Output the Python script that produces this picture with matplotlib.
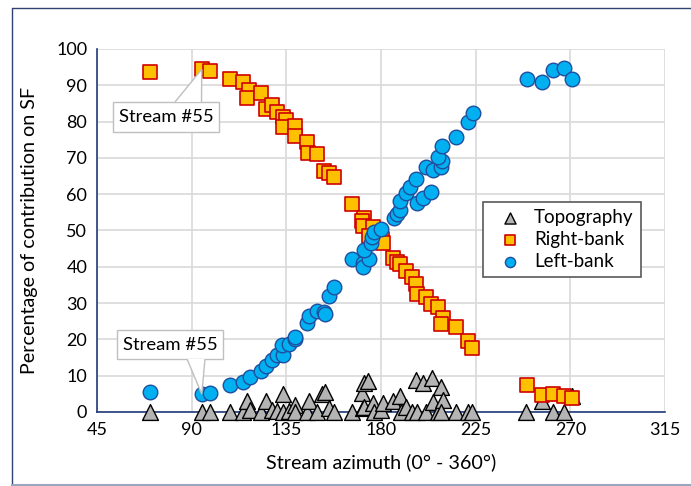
import matplotlib.pyplot as plt
from matplotlib.patches import Rectangle, Polygon
from matplotlib.lines import Line2D

plt.rcParams['font.family'] = ['Lato', 'DejaVu Sans']

# stream azimuth (deg) and contribution (%)
right_az = [70.1, 94.8, 98.6, 108.2, 114.5, 117.3, 116.5, 122.9, 125.5, 128.3,
            130.5, 133.2, 135.0, 133.3, 138.9, 138.9, 145.0, 145.3, 149.6, 152.8,
            155.4, 157.6, 166.4, 171.7, 170.9, 171.5, 176.1, 174.1, 180.5, 180.9,
            185.7, 187.6, 189.2, 191.8, 194.5, 196.6, 196.9, 201.4, 203.8, 207.3,
            209.4, 208.6, 215.6, 221.2, 223.4, 249.3, 256.5, 261.7, 266.9, 270.9]
right_val = [93.6, 94.4, 93.8, 91.8, 90.8, 88.6, 86.6, 88.0, 83.4, 84.5,
             82.7, 81.2, 80.5, 78.4, 78.9, 76.0, 74.4, 71.3, 71.1, 66.5,
             65.9, 64.8, 57.3, 53.3, 52.7, 51.2, 50.9, 48.5, 47.6, 46.5,
             42.3, 41.4, 40.8, 38.7, 37.1, 35.2, 32.4, 31.8, 29.8, 29.0,
             26.0, 24.2, 23.3, 19.6, 17.6, 7.5, 4.8, 4.9, 4.4, 3.8]

left_az = [70.1, 94.8, 98.6, 108.2, 114.5, 117.6, 122.9, 125.5, 128.3, 130.5,
           133.2, 132.9, 136.1, 138.9, 139.2, 145.0, 146.0, 149.8, 152.9, 153.6,
           155.3, 157.6, 166.4, 171.6, 171.6, 174.1, 172.1, 175.3, 175.8, 176.9,
           180.0, 186.0, 187.6, 189.2, 189.2, 191.8, 194.0, 196.4, 196.9, 200.1,
           203.6, 201.4, 204.6, 208.6, 208.9, 207.3, 209.2, 215.7, 221.3, 223.7,
           249.2, 256.6, 261.7, 267.0, 271.0]
left_val = [5.6, 4.9, 5.1, 7.4, 8.3, 9.6, 11.3, 12.7, 14.3, 15.6,
            15.7, 18.5, 18.7, 20.2, 20.7, 24.6, 26.4, 27.9, 27.6, 26.9,
            32.0, 34.5, 42.1, 41.0, 39.9, 42.1, 44.6, 46.5, 48.1, 49.7,
            50.3, 53.3, 54.5, 55.5, 58.2, 60.2, 62.1, 64.1, 57.7, 59.0,
            60.7, 67.6, 66.7, 67.4, 69.0, 70.2, 73.4, 75.8, 79.8, 82.3,
            91.7, 90.8, 94.2, 94.8, 91.7]

topo_az = [70.1, 94.8, 98.6, 108.2, 114.5, 116.5, 117.6, 122.9, 125.5, 128.3,
           130.5, 133.2, 133.3, 136.1, 138.9, 139.2, 145.0, 145.7, 149.8, 152.1,
           153.6, 155.3, 157.6, 166.4, 171.6, 170.9, 171.7, 173.6, 172.1, 176.1,
           176.9, 180.0, 180.9, 185.7, 188.9, 189.7, 191.8, 194.5, 196.6, 196.9,
           200.1, 201.4, 204.1, 204.6, 207.3, 208.4, 209.4, 208.6, 215.7, 221.2,
           223.4, 248.9, 256.6, 261.7, 267.0, 270.9]
topo_val = [0, 0, 0, 0, 0, 3.0, 0.5, 0, 3.0, 0.5,
            0.2, 5.0, 0, 0.3, 2.0, 0, 0, 3.0, 0, 5.0,
            5.6, 1.0, 0, 0, 1.0, 5.1, 7.9, 8.6, 1.5, 2.4,
            0, 0.6, 2.4, 2.9, 4.4, 0, 1.5, 0, 8.8, 0,
            7.9, 0, 9.3, 2.8, 0, 7.0, 3.3, 0, 0, 0,
            0, 0, 3.0, 0, 0, 4.5]

x_ticks = [45, 90, 135, 180, 225, 270, 315]
y_ticks = list(range(0, 101, 10))

fig = plt.figure(figsize=(6.91, 4.86), dpi=100)
ax = fig.add_axes([0.1404, 0.1523, 0.822, 0.747])

ax.scatter(topo_az, topo_val, marker='^', s=130, facecolor='#b4b4b4',
           edgecolor='black', linewidth=1.0, label='Topography', zorder=3,
           clip_on=False)
ax.scatter(right_az, right_val, marker='s', s=95, facecolor='#ffc000',
           edgecolor='#d00000', linewidth=1.2, label='Right-bank', zorder=4,
           clip_on=False)
ax.scatter(left_az, left_val, marker='o', s=110, facecolor='#00b0f0',
           edgecolor='#1f4e9f', linewidth=1.0, label='Left-bank', zorder=5,
           clip_on=False)

ax.set_xlim(45, 315)
ax.set_ylim(0, 100)
ax.set_xticks(x_ticks)
ax.set_yticks(y_ticks)
ax.grid(True, color='#d9d9d9', linewidth=1.2, zorder=0)
ax.set_axisbelow(True)
ax.tick_params(length=0, labelsize=13, pad=7)
for s in ['top', 'right']:
    ax.spines[s].set_visible(False)
for s in ['left', 'bottom']:
    ax.spines[s].set_color('#1f3b7a')
    ax.spines[s].set_linewidth(1.2)
    ax.spines[s].set_zorder(2.5)

ax.set_xlabel('Stream azimuth (0° - 360°)', fontsize=14.2, labelpad=11)
ax.set_ylabel('Percentage of contribution on SF', fontsize=14.2, labelpad=13)

leg = ax.legend(loc='upper left', bbox_to_anchor=(0.68, 0.579),
                borderaxespad=0, fontsize=13.5, fancybox=False, framealpha=1,
                edgecolor='#595959', handletextpad=0.3, borderpad=0.4,
                labelspacing=0.25, markerscale=0.7, handlelength=2.0)
leg.get_frame().set_linewidth(1.2)


# "Stream #55" callouts, box in pixels, tip on the data point
def callout(x0, y0, x1, y1, tip, bx0, bx1, top):
    px, py = ax.transData.transform(tip)
    ax.add_patch(Rectangle((x0, y0), x1 - x0, y1 - y0, transform=None,
                           facecolor='white', edgecolor='#bfbfbf', zorder=6))
    side = y1 if top else y0
    ax.add_patch(Polygon([(bx0, side), (px, py), (bx1, side)], closed=False,
                         transform=None, facecolor='white', edgecolor='#bfbfbf',
                         linewidth=1.0, zorder=6))
    ax.text((x0 + x1) / 2, (y0 + y1) / 2, 'Stream #55', transform=None,
            ha='center', va='center', fontsize=13.3, zorder=7)


H = 486
callout(113, H - 132, 219, H - 102, (right_az[1], right_val[1]), 175, 201.5, True)
callout(117, H - 359, 223, H - 330, (left_az[1], left_val[1]), 187, 205, False)

# chart frame
fig.add_artist(Line2D([12, 12, 700], [0, H - 7.5, H - 7.5], transform=None,
                      color='#2f4272', linewidth=1.0))
fig.add_artist(Line2D([12, 700], [1, 1], transform=None,
                      color='#9aa6bd', linewidth=1.5))

fig.savefig('out.png', dpi=100)
